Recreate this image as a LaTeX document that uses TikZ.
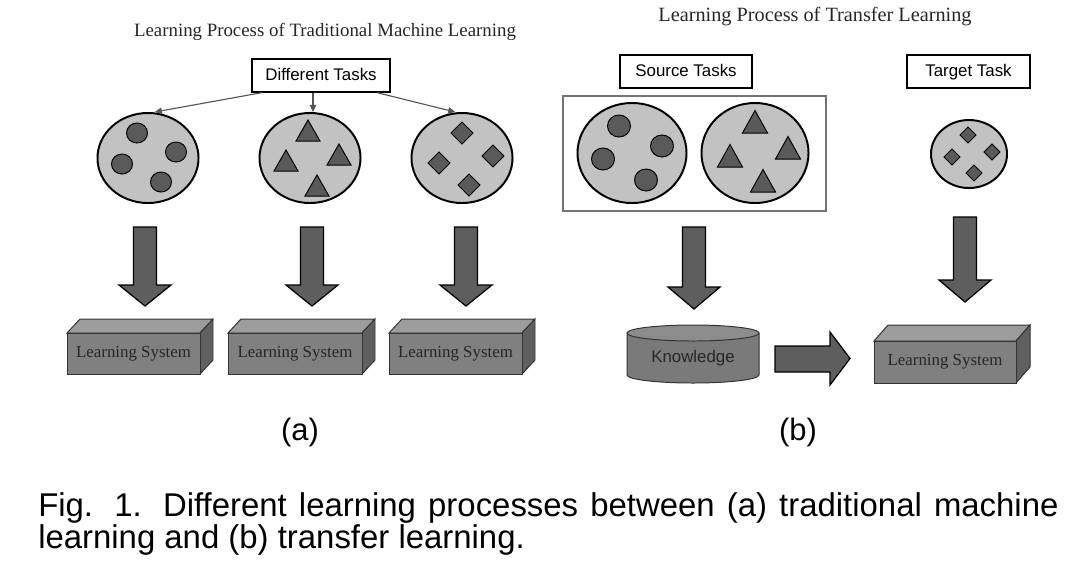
\documentclass[tikz,border=0pt]{standalone}
\usepackage{fontspec}
\setmainfont{Liberation Serif}
\setsansfont{Liberation Sans}
\usetikzlibrary{shapes.geometric,arrows.meta,calc,positioning}

\definecolor{blobgray}{HTML}{C2C2C2}
\definecolor{itemgray}{HTML}{5A5A5A}
\definecolor{arrowgray}{HTML}{5E5E5E}
\definecolor{frontgray}{HTML}{808080}
\definecolor{topgray}{HTML}{9C9C9C}
\definecolor{sidegray}{HTML}{606060}
\definecolor{linkgray}{HTML}{555555}

\tikzset{
  title/.style={font=\rmfamily\fontsize{13.4}{16}\selectfont, text=black!85, inner sep=0pt},
  tag/.style={draw, line width=0.9pt, fill=white, font=\sffamily\fontsize{12}{14}\selectfont,
    minimum height=0.825cm, inner sep=0pt, text height=8.6pt, text depth=2.2pt},
  task/.style={ellipse, draw, line width=1.4pt, fill=blobgray, inner sep=0pt},
  item/.style={draw=black, line width=0.7pt, fill=itemgray},
  blk/.style={draw=black, line width=0.9pt, fill=arrowgray, line join=miter},
  link/.style={draw=linkgray, line width=0.8pt, -{Triangle[length=5pt,width=4.5pt]}},
  lsfront/.style={draw=black!80, line width=0.7pt, fill=frontgray},
  lstop/.style={draw=black!80, line width=0.7pt, fill=topgray},
  lsside/.style={draw=black!80, line width=0.7pt, fill=sidegray},
  lstext/.style={font=\rmfamily\fontsize{12}{14}\selectfont, text=black!85, inner sep=0pt},
  sublabel/.style={font=\sffamily\fontsize{22}{26}\selectfont, inner sep=0pt}
}

% block arrow pointing down: x, y top, y head, y tip
\newcommand{\downblk}[4]{%
  \draw[blk] (#1-11.5,#2) -- (#1+11.5,#2) -- (#1+11.5,#3) -- (#1+26,#3) -- (#1,#4)
    -- (#1-26,#3) -- (#1-11.5,#3) -- cycle;}

% learning system box: name, x1, y1, x2, y2, depth x, depth y
\newcommand{\lsbox}[7]{%
  \draw[lstop] (#2,#3) -- (#2+#6,#3-#7) -- (#4+#6,#3-#7) -- (#4,#3) -- cycle;
  \draw[lsside] (#4,#3) -- (#4+#6,#3-#7) -- (#4+#6,#5-#7) -- (#4,#5) -- cycle;
  \draw[lsfront] (#2,#3) rectangle (#4,#5);
  \node[lstext] (#1) at ($(#2,#3)!0.5!(#4,#5)$) {Learning System};}

\begin{document}
\begin{tikzpicture}[x=0.025cm, y=-0.025cm]
\useasboundingbox (0,0) rectangle (1084,562);

% titles
\node[title] (ttl) at (325,32) {Learning Process of Traditional Machine Learning};
\node[title, font=\rmfamily\fontsize{14.4}{17}\selectfont] (ttr) at (815,17) {Learning Process of Transfer Learning};

% ---- (a) traditional machine learning
\node[tag, minimum width=3.45cm] (dt) at (321,75.5) {Different Tasks};
\node[task, minimum width=2.525cm, minimum height=2.25cm] (c1) at (148,158) {};
\node[task, minimum width=2.525cm, minimum height=2.25cm] (c2) at (310,158) {};
\node[task, minimum width=2.525cm, minimum height=2.25cm] (c3) at (462,158) {};

\draw[link] ([xshift=-1.475cm]dt.south) -- ([xshift=0.17cm]c1.north);
\draw[link] (dt.south -| 313,0) -- (c2.north -| 313,0);
\draw[link] ([xshift=1.4cm]dt.south) -- ([xshift=-0.17cm]c3.north);

\begin{scope}[shift={(c1)}]
  \foreach \dx/\dy in {-11/-25, 28/-6, -26/6, 13/24}
    \draw[item] (\dx,\dy) ellipse [x radius=10.5, y radius=10];
\end{scope}
\begin{scope}[shift={(c2)}]
  \foreach \dx/\dy in {-2/-26, 29/-2, -24/4, 7/29}
    \draw[item] (\dx,\dy) +(-12,9) -- +(12,9) -- +(0,-12) -- cycle;
\end{scope}
\begin{scope}[shift={(c3)}]
  \foreach \dx/\dy in {0/-25, 31/-2, -23/5, 7/27}
    \draw[item] (\dx,\dy) +(-11,0) -- +(0,-11) -- +(11,0) -- +(0,11) -- cycle;
\end{scope}

\downblk{145}{227}{285}{306}
\downblk{312}{227}{285}{306}
\downblk{466}{227}{285}{306}

\lsbox{ls1}{67}{333}{200}{374}{13}{14}
\lsbox{ls2}{228}{333}{362}{374}{13}{14}
\lsbox{ls3}{389}{333}{522}{374}{13}{14}

\node[sublabel] (la) at (300,432) {(a)};

% ---- (b) transfer learning
\node[tag, minimum width=3.3cm] (st) at (686,71.5) {Source Tasks};
\node[tag, minimum width=3.075cm] (tt) at (968.5,71.5) {Target Task};
\draw[draw=black!55, line width=0.8pt] (563,96) rectangle (826,211);

\node[task, minimum width=2.725cm, minimum height=2.5cm] (s1) at (632,153) {};
\node[task, minimum width=2.675cm, minimum height=2.5cm] (s2) at (755,153) {};
\node[task, minimum width=1.9cm, minimum height=1.7cm] (t1) at (969,154) {};

\begin{scope}[shift={(s1)}]
  \foreach \dx/\dy in {-13/-27, 30/-7, -29/6, 14/27}
    \draw[item] (\dx,\dy) ellipse [x radius=11.5, y radius=11];
\end{scope}
\begin{scope}[shift={(s2)}]
  \foreach \dx/\dy in {0/-30, 33/-4, -25/4, 8/29}
    \draw[item] (\dx,\dy) +(-12.5,10) -- +(12.5,10) -- +(0,-12.5) -- cycle;
\end{scope}
\begin{scope}[shift={(t1)}]
  \foreach \dx/\dy in {-1/-19, 23/-2, -17/3, 5/19}
    \draw[item] (\dx,\dy) +(-8,0) -- +(0,-8) -- +(8,0) -- +(0,8) -- cycle;
\end{scope}

\downblk{694}{227}{287}{309}
\downblk{965}{217}{280}{302}

% knowledge store
\fill[fill=frontgray!95!black, draw=black!80, line width=0.7pt]
  (627,333) -- (627,375) arc[start angle=180, end angle=0, x radius=66, y radius=8]
  -- (759,333) -- cycle;
\draw[fill=topgray!90!black, draw=black!80, line width=0.7pt] (693,333) ellipse [x radius=66, y radius=8];
\node[font=\sffamily\fontsize{12}{14}\selectfont, text=black!85, inner sep=0pt] (kn) at (693,358) {Knowledge};

\draw[blk] (775,346) -- (830,346) -- (830,332) -- (850,358.5) -- (830,385) -- (830,372) -- (775,372) -- cycle;

\lsbox{ls4}{874}{341}{1016}{383}{14}{16}

\node[sublabel] (lb) at (798,432) {(b)};

% caption
\node[anchor=north west, text width=25.5cm, align=justify, inner sep=0pt,
      font=\sffamily\fontsize{23.4}{22.6}\selectfont] (cap) at (38,492.5)
  {Fig. 1. Different learning processes between (a) traditional machine\linebreak
   learning and (b) transfer learning.};
\end{tikzpicture}
\end{document}
